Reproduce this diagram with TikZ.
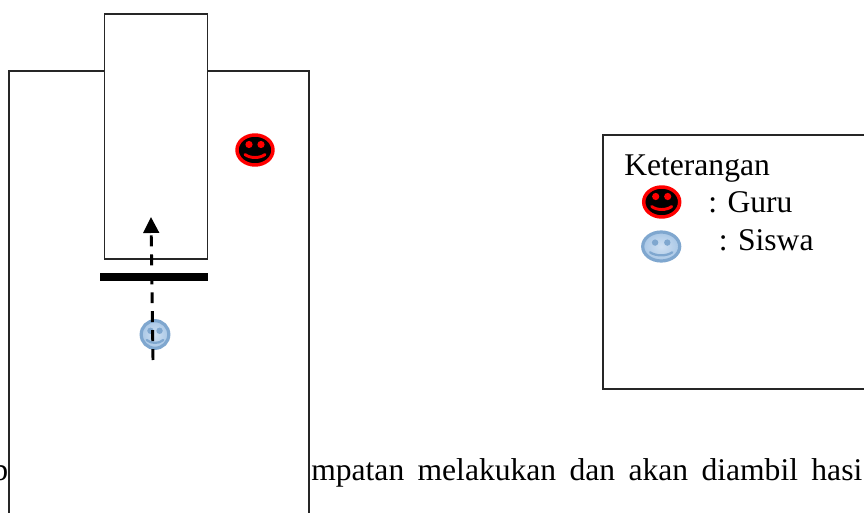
\documentclass[tikz,border=0pt]{standalone}
\usepackage{fontspec}
\setmainfont{Liberation Serif}
\usetikzlibrary{arrows.meta}
\definecolor{ringblue}{HTML}{7FA7CF}
\definecolor{faceblue}{HTML}{A9C7E6}
\definecolor{pale}{HTML}{CFE0F2}
\tikzset{
  x=0.75pt,y=-0.75pt,
  boxline/.style={draw=black!85,line width=1.2pt,fill=white},
  label/.style={inner sep=0pt,font=\fontsize{23.7}{28}\selectfont,text=black},
  pics/redface/.style={code={
    \draw[draw=red,fill=black,line width=2.6pt] (0,0) ellipse (18 and 15);
    \fill[red] (-6,-5.5) circle (3.6) (6,-5.5) circle (3.6);
    \draw[red,line width=2.2pt,line cap=round] (-10,4.5) .. controls (-5,8.5) and (5,8.5) .. (10,4.5);
  }},
  pics/blueface/.style args={#1/#2}{code={
    \draw[draw=ringblue,inner color=pale,outer color=faceblue,line width=2.4pt] (0,0) ellipse (#1 and #2);
    \fill[ringblue] (-0.33*#1,-0.27*#2) circle (3.2) (0.33*#1,-0.27*#2) circle (3.2);
    \draw[ringblue,line width=1.7pt,line cap=round] (-0.6*#1,0.4*#2) .. controls (-0.3*#1,0.68*#2) and (0.3*#1,0.68*#2) .. (0.6*#1,0.4*#2);
  }},
}
\begin{document}
\begin{tikzpicture}
\useasboundingbox (0,0) rectangle (864,513);
\clip (0,0) rectangle (864,513);
% running text behind the plan
\node[label,anchor=base east] (frag) at (8.5,480) {b};
\node[label,anchor=base west] (run) at (311,480) {\makebox[413.25pt][s]{mpatan melakukan dan akan diambil hasi}};
% plan
\draw[boxline] (9,71) rectangle (309,530);
\draw[boxline] (104.5,14) rectangle (207.5,259);
\fill[black] (100.3,273.3) rectangle (208,281);
% pupil and path
\pic at (155,334.5) {blueface={13.8/13.8}};
\coordinate (start) at (153,360);
\coordinate (goal) at (151,217);
\draw[line width=2.2pt,dash pattern=on 8.2pt off 6pt,-{Triangle[length=12pt,width=11.6pt]}] (start) -- (goal);
% teacher
\pic at (255,150) {redface};
% legend
\draw[boxline] (603,135) rectangle (880,389);
\node[label,anchor=base west] (ket) at (624,175.7) {Keterangan};
\pic at (661.7,202) {redface};
\node[label,anchor=base west] (guru) at (708,212.7) {: Guru};
\pic at (661.2,246.5) {blueface={18.5/14.5}};
\node[label,anchor=base west] (siswa) at (718.5,250.7) {: Siswa};
\end{tikzpicture}
\end{document}
